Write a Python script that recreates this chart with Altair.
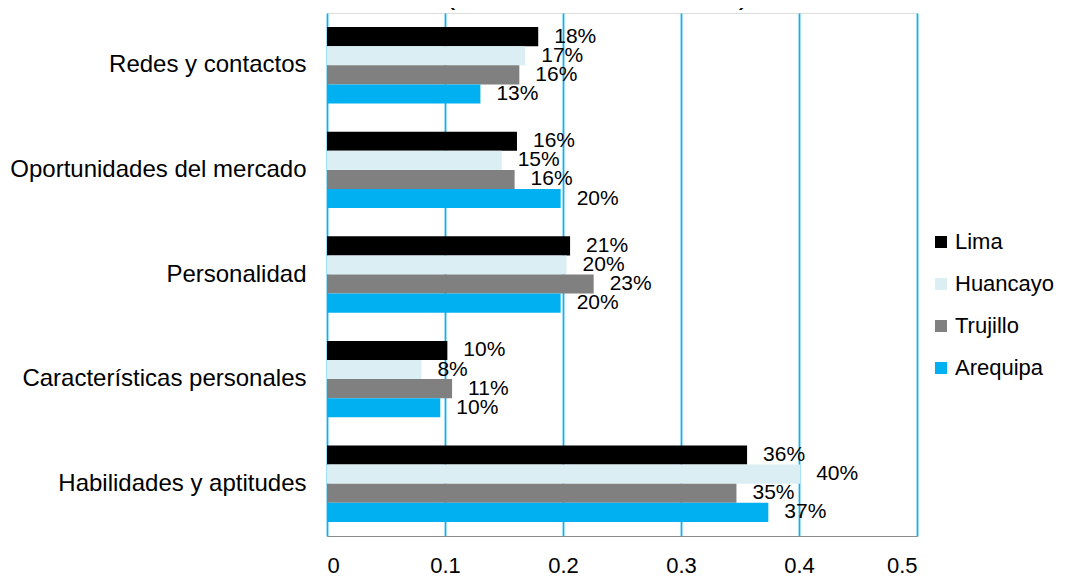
import altair as alt
import pandas as pd

categories = ["Redes y contactos", "Oportunidades del mercado", "Personalidad",
              "Características personales", "Habilidades y aptitudes"]
series = ["Lima", "Huancayo", "Trujillo", "Arequipa"]
colors = ["#000000", "#DAEEF3", "#808080", "#00B0F0"]

lima = [0.179, 0.161, 0.206, 0.102, 0.356]
huancayo = [0.168, 0.148, 0.203, 0.080, 0.401]
trujillo = [0.163, 0.159, 0.226, 0.106, 0.347]
arequipa = [0.130, 0.198, 0.198, 0.096, 0.374]

rows = []
for s, vals in zip(series, [lima, huancayo, trujillo, arequipa]):
    for c, v in zip(categories, vals):
        rows.append({"categoria": c, "ciudad": s, "valor": v})
df = pd.DataFrame(rows)

FONT = "Liberation Sans"

base = alt.Chart(df).encode(
    y=alt.Y("categoria:N", sort=categories, title=None,
            scale=alt.Scale(paddingInner=0.27, paddingOuter=0.135),
            axis=alt.Axis(domain=False, ticks=False, labelFontSize=24,
                          labelFont=FONT, labelColor="#000000",
                          labelPadding=21, labelLimit=400)),
    yOffset=alt.YOffset("ciudad:N", sort=series,
                        scale=alt.Scale(paddingInner=0, paddingOuter=0)),
    x=alt.X("valor:Q", title=None,
            scale=alt.Scale(domain=[0, 0.5], nice=False),
            axis=alt.Axis(values=[0, 0.1, 0.2, 0.3, 0.4, 0.5], format="~g",
                          grid=True, gridColor="#10B2EE", gridWidth=1.8,
                          domain=True, domainColor="#8C8C8C", domainWidth=1.2,
                          ticks=False, labelFontSize=22, labelFont=FONT,
                          labelColor="#000000", labelPadding=19)),
)

bars = base.mark_bar().encode(
    color=alt.Color("ciudad:N", sort=series,
                    scale=alt.Scale(domain=series, range=colors),
                    legend=alt.Legend(title=None, orient="none",
                                      legendX=603, legendY=218,
                                      symbolType="square", symbolSize=144,
                                      symbolStrokeWidth=0,
                                      labelFontSize=22, labelFont=FONT,
                                      labelColor="#000000", labelOffset=3,
                                      labelLimit=200,
                                      rowPadding=20, padding=0)),
)

labels = base.mark_text(align="left", baseline="middle", dx=16,
                        fontSize=21, font=FONT, color="#000000").encode(
    text=alt.Text("valor:Q", format=".0%"),
)

title_txt = alt.Chart(pd.DataFrame({"t": ["(Universidad Nacional)"]})).mark_text(
    align="center", baseline="alphabetic", fontSize=30, font=FONT, color="#000000"
).encode(
    text="t:N",
    x=alt.value(270),
    y=alt.value(-9),
)

chart = alt.layer(bars, labels, title_txt).properties(
    width=590, height=523,
    autosize=alt.AutoSizeParams(type="none"),
    padding={"left": 319, "top": 5, "right": 141, "bottom": 50},
).configure_view(stroke=None).configure(background="#FFFFFF")

chart.save("out.html", embed_options={"renderer": "svg", "actions": False})
